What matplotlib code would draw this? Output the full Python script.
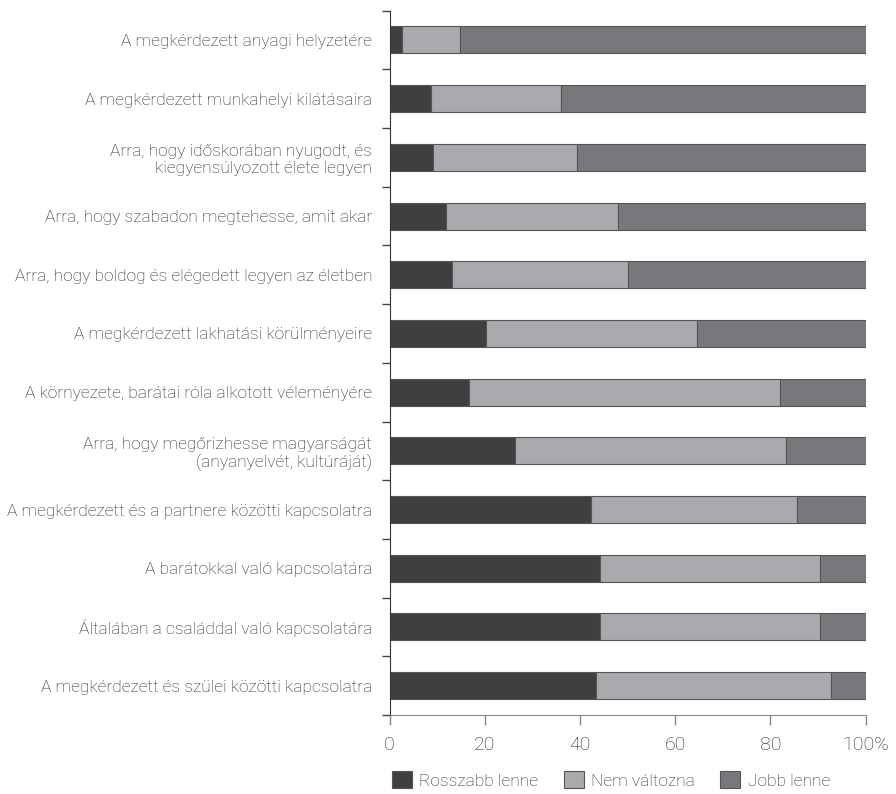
import matplotlib
matplotlib.use("Agg")
import matplotlib.pyplot as plt
import numpy as np
from matplotlib.ticker import FixedLocator

plt.rcParams['font.family'] = ['Roboto', 'DejaVu Sans']

categories = [
    "A megkérdezett anyagi helyzetére",
    "A megkérdezett munkahelyi kilátásaira",
    "Arra, hogy időskorában nyugodt, és\nkiegyensúlyozott élete legyen",
    "Arra, hogy szabadon megtehesse, amit akar",
    "Arra, hogy boldog és elégedett legyen az életben",
    "A megkérdezett lakhatási körülményeire",
    "A környezete, barátai róla alkotott véleményére",
    "Arra, hogy megőrizhesse magyarságát\n(anyanyelvét, kultúráját)",
    "A megkérdezett és a partnere közötti kapcsolatra",
    "A barátokkal való kapcsolatára",
    "Általában a családdal való kapcsolatára",
    "A megkérdezett és szülei közötti kapcsolatra",
]
rosszabb = [2.7, 8.7, 9.1, 11.9, 13.1, 20.3, 16.7, 26.4, 42.4, 44.3, 44.2, 43.4]
nem_valtozna = [12.2, 27.4, 30.2, 36.2, 36.9, 44.2, 65.4, 57.0, 43.3, 46.2, 46.3, 49.4]
jobb = [85.1, 63.9, 60.7, 51.9, 50.0, 35.5, 17.9, 16.6, 14.3, 9.5, 9.5, 7.2]
series_names = ["Rosszabb lenne", "Nem változna", "Jobb lenne"]
colors = ["#3f3f3f", "#a9aaad", "#77787b"]
xticks = [0, 20, 40, 60, 80, 100]
xticklabels = ["0", "20", "40", "60", "80", "100%"]

text_color = "#262626"

fig = plt.figure(figsize=(8.96, 7.94), dpi=100)
ax = fig.add_axes([389.5 / 896, 1 - 715 / 794, 476 / 896, 704.4 / 794])

y = np.arange(len(categories))
left = np.zeros(len(categories))
for vals, name, c in zip([rosszabb, nem_valtozna, jobb], series_names, colors):
    ax.barh(y, vals, left=left, height=0.46, color=c, edgecolor="#555555",
            linewidth=0.8, label=name)
    left = left + np.array(vals)

ax.set_ylim(len(categories) - 0.5, -0.5)
ax.set_xlim(0, 100)
ax.set_yticks(y)
ax.set_yticklabels(categories, fontsize=12.5, color=text_color, fontweight="light",
                   linespacing=1.2)
ax.yaxis.set_minor_locator(FixedLocator(np.arange(-0.5, len(categories), 1.0)))
ax.tick_params(axis="y", which="major", length=0, pad=12.5)
ax.tick_params(axis="y", which="minor", length=6, width=1, color="#444444")
ax.set_xticks(xticks)
ax.set_xticklabels(xticklabels, fontsize=14, color=text_color, fontweight="light")
ax.tick_params(axis="x", length=7, width=1, color="#888888", pad=8)
for lbl in ax.get_yticklabels():
    lbl.set_horizontalalignment("right")

for s in ["top", "right"]:
    ax.spines[s].set_visible(False)
ax.spines["left"].set_color("#333333")
ax.spines["bottom"].set_color("#888888")

leg = fig.legend(loc="center left", bbox_to_anchor=(376 / 896, 1 - 780 / 794), ncol=3,
                 frameon=False, handlelength=1.15, handleheight=1.15,
                 columnspacing=1.45, handletextpad=0.45,
                 prop={"weight": "light", "size": 12.5})
for t in leg.get_texts():
    t.set_color(text_color)

fig.savefig("out.png", dpi=100)
